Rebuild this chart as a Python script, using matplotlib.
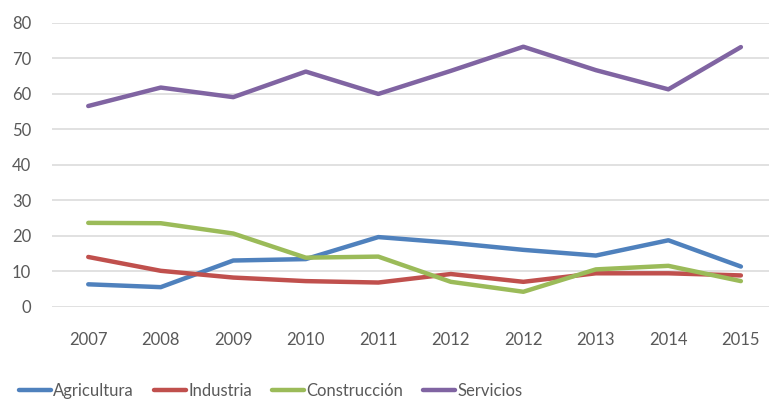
import matplotlib
matplotlib.use("Agg")
import matplotlib.pyplot as plt

# categorias (el original repite 2012)
years = ["2007", "2008", "2009", "2010", "2011", "2012", "2012", "2013", "2014", "2015"]

agricultura = [6.3, 5.5, 13.0, 13.4, 19.6, 18.0, 16.0, 14.4, 18.7, 11.3]
industria = [14.0, 10.1, 8.2, 7.2, 6.8, 9.2, 7.0, 9.4, 9.4, 8.8]
construccion = [23.6, 23.5, 20.6, 13.8, 14.1, 7.0, 4.2, 10.5, 11.5, 7.2]
servicios = [56.5, 61.7, 59.0, 66.2, 59.9, 66.4, 73.2, 66.6, 61.2, 73.1]

series = [
    ("Agricultura", agricultura, "#4F81BD"),
    ("Industria", industria, "#C0504D"),
    ("Construcción", construccion, "#9BBB59"),
    ("Servicios", servicios, "#8064A2"),
]

plt.rcParams['font.family'] = ['Lato', 'DejaVu Sans']
text_color = "#595959"

fig = plt.figure(figsize=(7.69, 4.03), dpi=100)
ax = fig.add_axes([0.0676, 0.239, 0.943, 0.705])

x = list(range(len(years)))
for name, vals, col in series:
    ax.plot(x, vals, color=col, linewidth=3.2, label=name, solid_capstyle='round')

ax.set_xlim(-0.5, len(years) - 0.5)
ax.set_ylim(0, 80)
ax.set_yticks(range(0, 81, 10))
ax.set_xticks(x)
ax.set_xticklabels(years)
ax.grid(axis='y', color="#D9D9D9", linewidth=1.1)
ax.set_axisbelow(True)
for s in ax.spines.values():
    s.set_visible(False)
ax.tick_params(axis='both', length=0, labelsize=12, colors=text_color)
ax.tick_params(axis='y', pad=15)
ax.tick_params(axis='x', pad=18)

leg = fig.legend(loc='center', bbox_to_anchor=(0.352, 0.03), ncol=4, frameon=False,
                 fontsize=12, handlelength=1.9, handletextpad=0.15, columnspacing=1.2)
for t in leg.get_texts():
    t.set_color(text_color)

fig.savefig("out.png", dpi=100)
